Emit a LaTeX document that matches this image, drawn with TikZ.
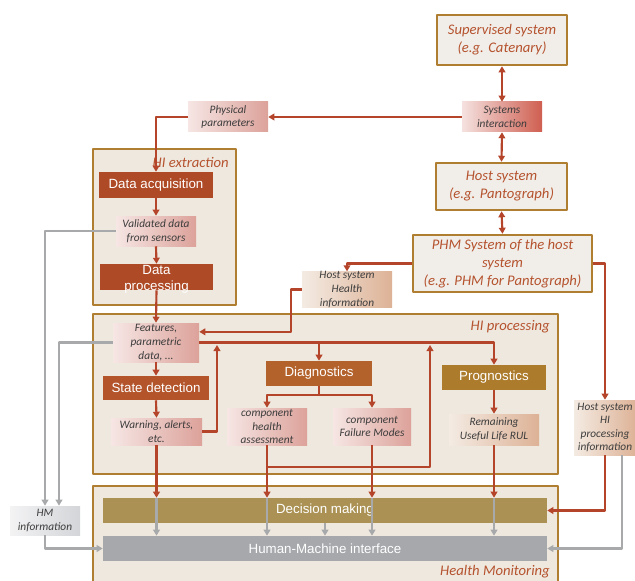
\documentclass[tikz,border=0pt]{standalone}
\usepackage{fontspec}
\setmainfont{Carlito}
\newfontfamily\arialfont{Liberation Sans}
\usetikzlibrary{arrows.meta}
\definecolor{goldline}{HTML}{B07E30}
\definecolor{framefill}{HTML}{EFE8DF}
\definecolor{sysfill}{HTML}{F1EEEA}
\definecolor{titlecol}{HTML}{B5532E}
\definecolor{darktext}{HTML}{3C3C3C}
\definecolor{rustred}{HTML}{B4452A}
\definecolor{grayline}{HTML}{A8A9AB}
\definecolor{acqcol}{HTML}{AE4A26}
\definecolor{statecol}{HTML}{B3542A}
\definecolor{diagcol}{HTML}{B3622C}
\definecolor{progcol}{HTML}{AC7B2C}
\definecolor{deccol}{HTML}{AB9254}
\definecolor{hmicol}{HTML}{A6A8AC}
\definecolor{pinkL}{HTML}{F6E6E4}
\definecolor{pinkR}{HTML}{DCA29A}
\definecolor{sysL}{HTML}{F5E2E0}
\definecolor{sysR}{HTML}{CF5E50}
\definecolor{tanL}{HTML}{F4EBE3}
\definecolor{tanR}{HTML}{DDB296}
\definecolor{grayL}{HTML}{F3F3F4}
\definecolor{grayR}{HTML}{D3D5D8}

\begin{document}
\begin{tikzpicture}[line join=round,x=0.75pt,y=-0.75pt,
	boxsize/.style 2 args={minimum width=#1*0.75pt,minimum height=#2*0.75pt},
	frame/.style={draw=goldline,line width=1.8pt,fill=framefill},
	framelabel/.style={font=\itshape\fontsize{11}{13.5}\selectfont,text=titlecol,anchor=east,inner sep=0pt},
	sysbox/.style={draw=goldline,line width=1.9pt,fill=sysfill,font=\itshape\fontsize{11}{13.5}\selectfont,text=titlecol,align=center,inner sep=0pt},
	solidbox/.style={font=\arialfont\fontsize{10}{12}\selectfont,text=white,inner sep=0pt},
	infobox/.style={font=\itshape\fontsize{8.5}{10.2}\selectfont,text=darktext,align=center,inner sep=0pt},
	pinkinfo/.style={infobox,left color=pinkL,right color=pinkR},
	taninfo/.style={infobox,left color=tanL,right color=tanR},
	grayinfo/.style={infobox,left color=grayL,right color=grayR},
	redarr/.style={draw=rustred,line width=1.6pt,-{Triangle[length=4.5pt,width=5pt]}},
	reddbl/.style={draw=rustred,line width=1.6pt,{Triangle[length=4.5pt,width=5pt]}-{Triangle[length=4.5pt,width=5pt]}},
	grayarr/.style={draw=grayline,line width=1.6pt,-{Triangle[length=4.5pt,width=5pt]}}]
	\useasboundingbox (0,0) rectangle (635,581);
	\clip (0,0) rectangle (635,581);
	\draw[frame] (93,149) rectangle (236,305);
	\draw[frame] (93,314) rectangle (558,474);
	\draw[frame] (93,486) rectangle (558,600);
	\node[framelabel] (lblext) at (229,162) {HI extraction};
	\node[framelabel] (lblproc) at (550,327) {HI processing};
	\node[framelabel] (lblmon) at (550,572) {Health Monitoring};

	\node[sysbox,boxsize={130}{50}] (sup) at (502,40) {Supervised system\\(e.g. Catenary)};
	\node[infobox,left color=sysL,right color=sysR,boxsize={80}{30}] (sysint) at (502,117) {Systems\\interaction};
	\node[sysbox,boxsize={131}{47}] (host) at (501.5,186.5) {Host system\\(e.g. Pantograph)};
	\node[sysbox,boxsize={179}{57}] (phm) at (502.5,263.5) {PHM System of the host\\system\\(e.g. PHM for Pantograph)};
	\node[pinkinfo,boxsize={80}{30}] (phys) at (228,117) {Physical\\parameters};

	\node[solidbox,fill=acqcol,boxsize={114}{26}] (dacq) at (156,185) {Data acquisition};
	\node[pinkinfo,boxsize={80}{30}] (valid) at (156,231) {Validated data\\from sensors};
	\node[solidbox,fill=acqcol,boxsize={113}{26}] (dproc) at (156.5,277) {\smash{\raisebox{-4pt}{\begin{tabular}{@{}c@{}}Data\\processing\end{tabular}}}};

	\node[pinkinfo,boxsize={86}{39}] (feat) at (156,342.5) {Features,\\parametric\\data, ...};
	\node[taninfo,boxsize={90}{35}] (hshi) at (347,289.5) {Host system\\Health\\information};
	\node[solidbox,fill=statecol,boxsize={106}{24}] (state) at (156,388) {State detection};
	\node[pinkinfo,boxsize={91}{27}] (warn) at (156.5,431.5) {Warning, alerts,\\etc.};
	\node[solidbox,fill=diagcol,boxsize={106}{25}] (diag) at (319,373.5) {Diagnostics};
	\node[pinkinfo,boxsize={80}{37}] (cha) at (267,426.5) {component\\health\\assessment};
	\node[pinkinfo,boxsize={78}{37}] (cfm) at (372,426.5) {component\\Failure Modes};
	\node[solidbox,fill=progcol,boxsize={104}{25}] (prog) at (494,377.5) {Prognostics};
	\node[taninfo,boxsize={90}{31}] (rul) at (494,429.5) {Remaining\\Useful Life RUL};
	\node[taninfo,boxsize={62}{55}] (hshp) at (605,427.5) {Host system\\HI\\processing\\information};
	\node[grayinfo,boxsize={70}{29}] (hminfo) at (45,520.5) {HM\\information};

	\node[solidbox,fill=deccol,boxsize={444}{25}] (dec) at (325,510.5) {Decision making};
	\node[solidbox,fill=hmicol,boxsize={444}{25}] (hmi) at (325,548.5) {Human-Machine interface};

	\coordinate (jw) at (217,345);
	\coordinate (jd) at (430,345);

	\draw[reddbl] (sup.south) -- (sysint.north);
	\draw[reddbl] (sysint.south) -- (host.north);
	\draw[reddbl] (host.south) -- (phm.north);
	\draw[redarr] (sysint.west) -- (phys.east);
	\draw[redarr] (phys.west) -| (dacq.north);
	\draw[redarr] (dacq.south) -- (valid.north);
	\draw[redarr] (valid.south) -- (dproc.north);
	\draw[redarr] (dproc.south) -- (feat.north);
	\draw[redarr] (feat.south) -- (state.north);
	\draw[redarr] (state.south) -- (warn.north);
	\draw[redarr] (phm.west) -| (hshi.north);
	\draw[redarr] (hshi.west) -- ++(-11,0) |- ([yshift=8pt]feat.east);
	\draw[redarr] (feat.east) -| (prog.north);
	\draw[redarr] (feat.east -| diag.north) -- (diag.north);
	\draw[redarr] (warn.east) -| (jw);
	\draw[redarr] (diag.south) -- ++(0,9) coordinate (dj) -| (cha.north);
	\draw[redarr] (dj) -| (cfm.north);
	\draw[redarr] (cha.south) -- ++(0,22) -| (jd);
	\draw[redarr] (prog.south) -- (rul.north);
	\draw[redarr] (phm.east) -| (hshp.north);
	\draw[redarr] (hshp.south) |- (dec.east);
	\foreach \n in {warn,cha,cfm,rul}
		\draw[grayarr] (dec.north -| \n.south) -- (hmi.north -| \n.south);
	\draw[grayarr] (dec.south) -- (hmi.north);
	\foreach \n in {warn,cha,cfm,rul}
		\draw[redarr] (\n.south) -- (dec.north -| \n.south);

	\draw[grayarr] (valid.west) -| (hminfo.north);
	\draw[grayarr] (feat.west) -| ([xshift=10.5pt]hminfo.north);
	\draw[grayarr] (hminfo.south) |- (hmi.west);
	\draw[grayarr] ([xshift=12.75pt]hshp.south) |- (hmi.east);
\end{tikzpicture}
\end{document}
